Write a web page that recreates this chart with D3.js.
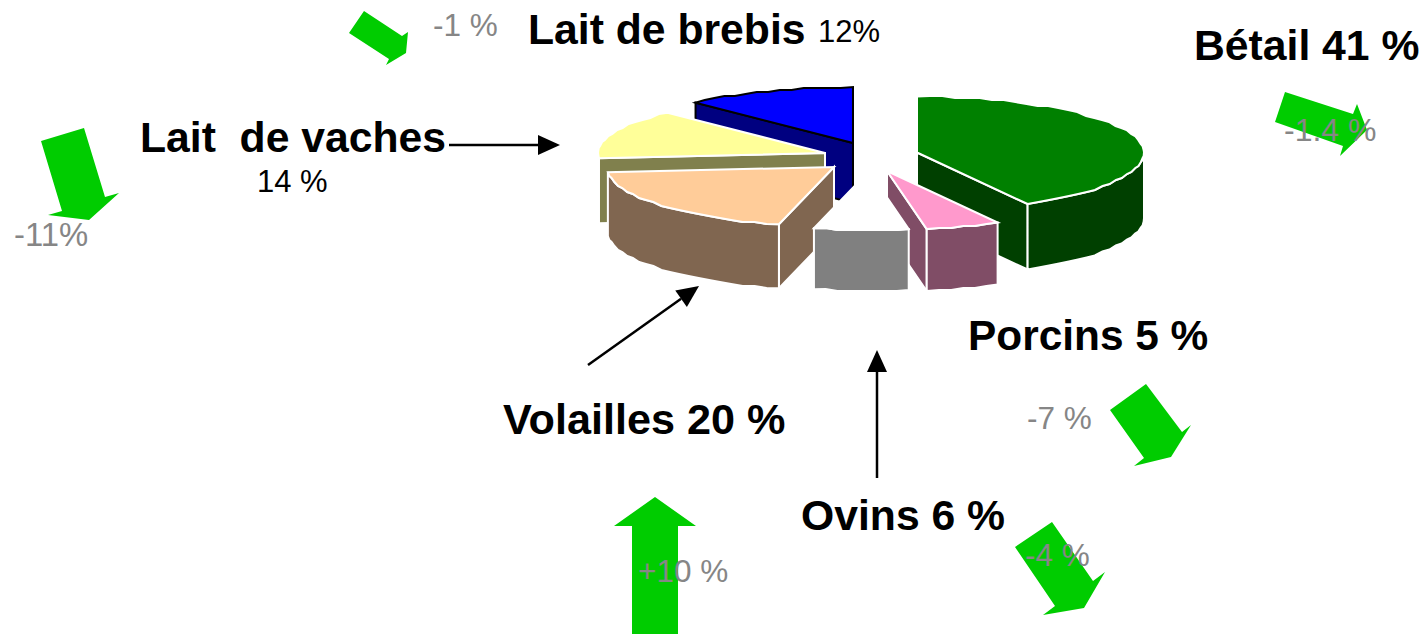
<!DOCTYPE html>
<html lang="fr">
<head>
<meta charset="utf-8">
<title>Parts de la production</title>
<script src="https://cdn.jsdelivr.net/npm/d3@7/dist/d3.min.js"></script>
<style>
html,body{margin:0;padding:0;background:#fff;overflow:hidden}
svg{display:block}
text{font-family:"Liberation Sans",Arial,sans-serif;white-space:pre}
</style>
</head>
<body>
<script>
// ---- Data ----
const categories = ["Bétail", "Porcins", "Ovins", "Volailles", "Lait de vaches", "Lait de brebis"];
const sliceShares = [41.9, 5.3, 6.7, 19.7, 14.2, 12.2];
const shareLabels = ["41 %", "5 %", "6 %", "20 %", "14 %", "12%"];
const trendLabels = ["-1.4 %", "-7 %", "-4 %", "+10 %", "-11%", "-1 %"];

// ---- Styles and layout ----
const topColors  = ["#008000", "#FF99CC", "#FFFFFF", "#FFCC99", "#FFFF99", "#0000FF"];
const wallColors = ["#004000", "#804D66", "#808080", "#806650", "#80804D", "#000080"];
const edgeColors = ["#FFFFFF", "#FFFFFF", "#FFFFFF", "#FFFFFF", "#FFFFFF", "#000000"];
const explodedCentres = [[917,152.5],[887,171],[869,171],[834,167],[825,153],[853,143]];
const wallDepths = [65.5, 62, 61, 64, 65, 60];
const paintOrder = [5, 4, 3, 0, 1, 2];
const radiusX = 227, radiusBack = 56, radiusFront = 59;

const trendArrowOutlines = [
  [[1285,92],[1275,122],[1343,146],[1340,156],[1367,130],[1357,104],[1353,114]],
  [[1146,384],[1110,410],[1144,458],[1134,466],[1171,457],[1191,425],[1182,432]],
  [[1052,522],[1015,547],[1055,606],[1043,615],[1084,608],[1105,572],[1093,581]],
  [[655,497],[696,526],[678,526],[678,634],[632,634],[632,526],[614,526]],
  [[41,141],[62,211],[48,215],[89,220],[119,193],[105,197],[84,128]],
  [[349,33],[389,59],[386,65],[406,53],[408,32],[402,36],[364,11]]
];
const trendLabelAnchors = [[1284,141],[1027,429],[1025,566],[638,582],[14,246],[433,36]];
const trendLabelSizes = [32, 31.5, 31.5, 31.5, 32.8, 31.5];
const nameAnchors = [[1194,59.5],[968,349.5],[801,530],[503,434],[140,152],[528,43.5]];
const nameSizes = [42.7, 42.4, 42.7, 43.2, 42.7, 42.7];
const leaderLines = [[[449,145],[560,145]],[[588,365],[699,286]],[[877,478],[877,350]]];

const svg = d3.select("body").append("svg").attr("width",1422).attr("height",634);
const pathOf = d3.line();

// ---- Pie ----
const arcs = d3.pie().sort(null).value(d => d)(sliceShares);
const snap = (v, step) => Math.round(v / step) * step;

function rimPoint(i, t) {
  const [cx, cy] = explodedCentres[i];
  const c = Math.cos(t);
  return [cx + radiusX * Math.sin(t), cy - (c > 0 ? radiusBack : radiusFront) * c];
}
function rimPoints(i, a0, a1) {
  const n = Math.max(2, Math.ceil((a1 - a0) / (Math.PI / 55)));
  return d3.range(n + 1).map(k => {
    const t = a0 + (a1 - a0) * k / n;
    const p = rimPoint(i, t);
    return (k === 0 || k === n) ? p : [p[0], snap(p[1], 2)];
  });
}
const lowered = (p, d) => [p[0], p[1] + d];

const slices = svg.append("g").attr("class", "pie");
paintOrder.forEach(i => {
  const a = arcs[i], centre = explodedCentres[i], d = wallDepths[i];
  const g = slices.append("g").attr("class", "slice").attr("data-name", categories[i])
    .attr("stroke", edgeColors[i]).attr("stroke-width", 2).attr("stroke-linejoin", "miter");

  const a0 = a.startAngle, a1 = a.endAngle;
  const radial = a1 < Math.PI ? a1 : (a0 > Math.PI ? a0 : null);
  if (radial !== null) {
    const r = rimPoint(i, radial);
    g.append("path").attr("fill", wallColors[i])
      .attr("d", pathOf([centre, r, lowered(r, d), lowered(centre, d)]) + "Z");
  }
  const f0 = Math.max(a0, Math.PI / 2), f1 = Math.min(a1, 3 * Math.PI / 2);
  if (f1 > f0) {
    const rim = rimPoints(i, f0, f1);
    const low = rim.slice().reverse().map(p => lowered(p, d));
    g.append("path").attr("fill", wallColors[i]).attr("d", pathOf(rim.concat(low)) + "Z");
  }
  g.append("path").attr("fill", topColors[i])
    .attr("d", pathOf([centre].concat(rimPoints(i, a0, a1))) + "Z");
});

// ---- Trend arrows ----
svg.append("g").selectAll("path").data(trendArrowOutlines).join("path")
  .attr("fill", "#00CC00").attr("d", o => pathOf(o) + "Z");

// ---- Leaders ----
const leader = svg.append("g");
leaderLines.forEach(([p, q]) => {
  const ang = Math.atan2(q[1] - p[1], q[0] - p[0]);
  const headL = 22, headW = 10;
  const bx = q[0] - headL * Math.cos(ang), by = q[1] - headL * Math.sin(ang);
  leader.append("line").attr("x1", p[0]).attr("y1", p[1]).attr("x2", bx).attr("y2", by)
    .attr("stroke", "#000").attr("stroke-width", 2.5);
  leader.append("path").attr("fill", "#000").attr("d", pathOf([
    q,
    [bx - headW * Math.sin(ang), by + headW * Math.cos(ang)],
    [bx + headW * Math.sin(ang), by - headW * Math.cos(ang)]
  ]) + "Z");
});

// ---- Text ----
const plainSize = 31;
const nameText = ["Bétail 41 %", "Porcins 5 %", "Ovins 6 %", "Volailles 20 %", "Lait  de vaches", "Lait de brebis"];
svg.append("g").selectAll("text").data(nameText).join("text")
  .attr("x", (d, i) => nameAnchors[i][0]).attr("y", (d, i) => nameAnchors[i][1])
  .attr("font-size", (d, i) => nameSizes[i]).attr("font-weight", "bold").attr("fill", "#000").text(d => d);

svg.append("text").attr("x", 257).attr("y", 192).attr("font-size", plainSize).text(shareLabels[4]);
svg.append("text").attr("x", 818).attr("y", 42).attr("font-size", plainSize).text(shareLabels[5]);

svg.append("g").selectAll("text").data(trendLabels).join("text")
  .attr("x", (d, i) => trendLabelAnchors[i][0]).attr("y", (d, i) => trendLabelAnchors[i][1])
  .attr("font-size", (d, i) => trendLabelSizes[i]).attr("fill", "#868686").text(d => d);
</script>
</body>
</html>
